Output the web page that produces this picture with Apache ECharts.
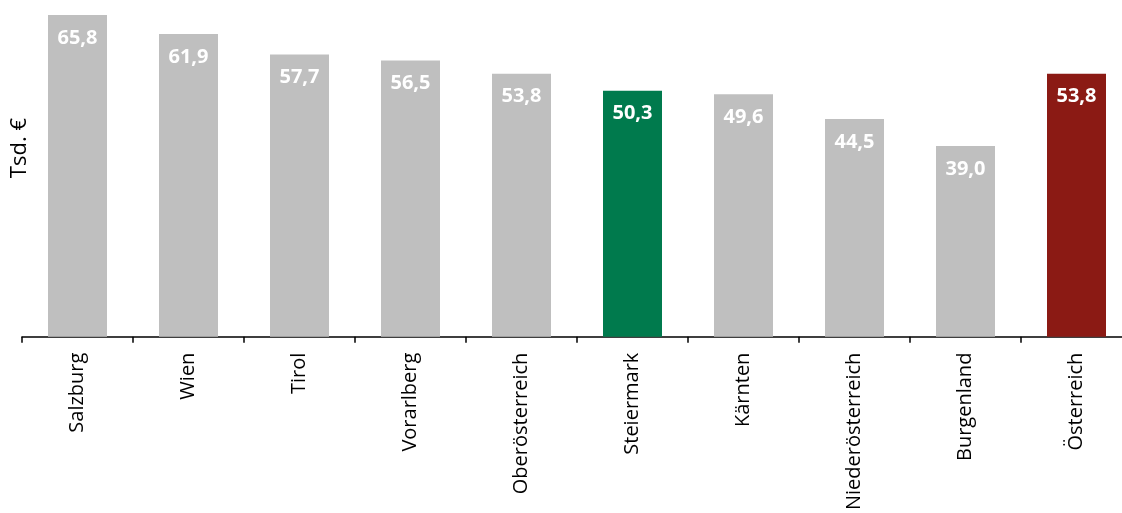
<!DOCTYPE html>
<html>
<head>
<meta charset="utf-8">
<script src="https://cdn.jsdelivr.net/npm/echarts@6/dist/echarts.min.js"></script>
<style>
html,body{margin:0;padding:0;background:#fff;overflow:hidden;width:1122px;height:513px;}
#chart{width:1132px;height:513px;}
</style>
</head>
<body>
<div id="chart"></div>
<script>
const categories = ['Salzburg','Wien','Tirol','Vorarlberg','Oberösterreich','Steiermark','Kärnten','Niederösterreich','Burgenland','Österreich'];
const values = [65.8, 61.9, 57.7, 56.5, 53.8, 50.3, 49.6, 44.5, 39.0, 53.8];
const barColors = ['#BFBFBF','#BFBFBF','#BFBFBF','#BFBFBF','#BFBFBF','#007A4D','#BFBFBF','#BFBFBF','#BFBFBF','#8B1A14'];
const yAxisTitle = 'Tsd. €';

const chart = echarts.init(document.getElementById('chart'), null, {renderer:'canvas'});
chart.setOption({
  animation: false,
  grid: { left: 22, top: 14, right: 0, height: 326 },
  xAxis: {
    type: 'category',
    data: categories,
    axisLine: { show: true, lineStyle: { color: '#000', width: 1.5 } },
    axisTick: { show: true, length: 6, lineStyle: { color: '#000', width: 1.5 } },
    axisLabel: { rotate: 90, margin: 16, fontFamily: 'Open Sans', fontSize: 20, color: '#000', interval: 0 }
  },
  yAxis: {
    type: 'value', min: 0, max: 66,
    show: false
  },
  graphic: [{
    type: 'text', left: 9, top: 118, rotation: Math.PI/2,
    style: { text: yAxisTitle, font: '22px "Open Sans"', fill: '#000' }
  }],
  series: [{
    type: 'bar',
    data: values.map((v,i) => ({ value: v, itemStyle: { color: barColors[i] } })),
    barWidth: 59,
    label: {
      show: true, position: 'insideTop', distance: 13,
      formatter: p => p.value.toFixed(1).replace('.', ','),
      color: '#fff', fontWeight: 'bold', fontFamily: 'Open Sans', fontSize: 20
    }
  }]
});
</script>
</body>
</html>
